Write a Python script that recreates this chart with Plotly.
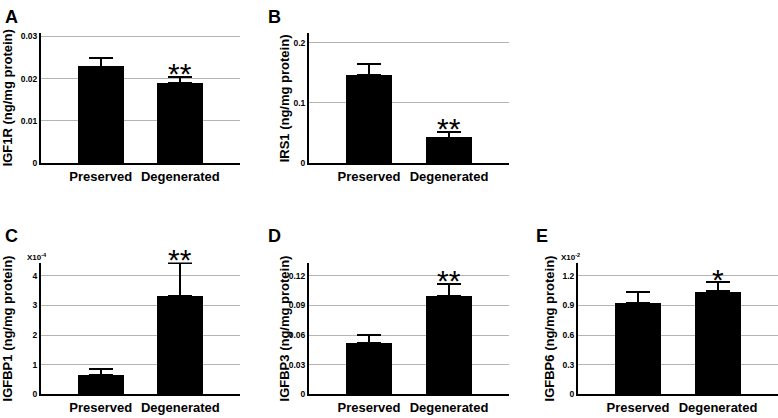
import plotly.graph_objects as go

W, H = 778, 418

categories = ["Preserved", "Degenerated"]

# Panel A: IGF1R (ng/mg protein)
igf1r_mean = [0.0228, 0.0189]
igf1r_err = [0.0022, 0.0016]
igf1r_ticks = [0, 0.01, 0.02, 0.03]
igf1r_ticktext = ["0", "0.01", "0.02", "0.03"]

# Panel B: IRS1 (ng/mg protein)
irs1_mean = [0.1455, 0.042]
irs1_err = [0.0195, 0.0105]
irs1_ticks = [0, 0.1, 0.2]
irs1_ticktext = ["0", "0.1", "0.2"]

# Panel C: IGFBP1 (x10^-4 ng/mg protein)
igfbp1_mean = [0.66, 3.33]
igfbp1_err = [0.21, 1.11]
igfbp1_ticks = [0, 1, 2, 3, 4]
igfbp1_ticktext = ["0", "1", "2", "3", "4"]

# Panel D: IGFBP3 (ng/mg protein)
igfbp3_mean = [0.052, 0.0998]
igfbp3_err = [0.0083, 0.0119]
igfbp3_ticks = [0, 0.03, 0.06, 0.09, 0.12]
igfbp3_ticktext = ["0", "0.03", "0.06", "0.09", "0.12"]

# Panel E: IGFBP6 (x10^-2 ng/mg protein)
igfbp6_mean = [0.925, 1.041]
igfbp6_err = [0.109, 0.093]
igfbp6_ticks = [0, 0.3, 0.6, 0.9, 1.2]
igfbp6_ticktext = ["0", "0.3", "0.6", "0.9", "1.2"]

significance = {
    "A": ["", "**"], "B": ["", "**"], "C": ["", "**"], "D": ["", "**"], "E": ["", "*"],
}

FONT = "Liberation Sans, Arial, sans-serif"

# layout in pixels
col_x = [(41, 240), (309, 509), (578, 778)]
row_y = [(32, 164), (265, 399)]

panels = [
    dict(letter="A", col=0, row=0, mean=igf1r_mean, err=igf1r_err, ymax=0.0307,
         ticks=igf1r_ticks, ticktext=igf1r_ticktext, title="IGF1R (ng/mg protein)",
         title_x=7, mult=None),
    dict(letter="B", col=1, row=0, mean=irs1_mean, err=irs1_err, ymax=0.215,
         ticks=irs1_ticks, ticktext=irs1_ticktext, title="IRS1 (ng/mg protein)",
         title_x=284, mult=None),
    dict(letter="C", col=0, row=1, mean=igfbp1_mean, err=igfbp1_err, ymax=4.45,
         ticks=igfbp1_ticks, ticktext=igfbp1_ticktext, title="IGFBP1 (ng/mg protein)",
         title_x=7, mult=("X10<sup>-4</sup>", 25)),
    dict(letter="D", col=1, row=1, mean=igfbp3_mean, err=igfbp3_err, ymax=0.1333,
         ticks=igfbp3_ticks, ticktext=igfbp3_ticktext, title="IGFBP3 (ng/mg protein)",
         title_x=284, mult=None),
    dict(letter="E", col=2, row=1, mean=igfbp6_mean, err=igfbp6_err, ymax=1.333,
         ticks=igfbp6_ticks, ticktext=igfbp6_ticktext, title="IGFBP6 (ng/mg protein)",
         title_x=549, mult=("X10<sup>-2</sup>", 559)),
]

fig = go.Figure()
annotations = []
layout = {}

for i, p in enumerate(panels, start=1):
    sfx = "" if i == 1 else str(i)
    x0, x1 = col_x[p["col"]]
    ytop, ybot = row_y[p["row"]]
    fig.add_trace(go.Bar(
        x=[0, 1], y=p["mean"], width=0.575,
        marker=dict(color="black", line=dict(width=0)),
        error_y=dict(type="data", array=p["err"], arrayminus=[0, 0], symmetric=False,
                     color="black", thickness=2, width=12),
        xaxis="x" + sfx, yaxis="y" + sfx, showlegend=False, hoverinfo="skip",
    ))
    layout["xaxis" + sfx] = dict(
        domain=[x0 / W, x1 / W], anchor="y" + sfx, range=[-0.75, 1.75],
        tickvals=[0, 1], ticktext=categories, showgrid=False, zeroline=False,
        showline=True, linecolor="black", linewidth=2, ticks="",
        tickfont=dict(family=FONT, size=13, color="black", weight="bold"), fixedrange=True,
    )
    layout["yaxis" + sfx] = dict(
        domain=[1 - ybot / H, 1 - ytop / H], anchor="x" + sfx, range=[0, p["ymax"]],
        tickvals=p["ticks"], ticktext=p["ticktext"], showgrid=True, gridcolor="#b4b4b4",
        gridwidth=1, zeroline=False, showline=True, linecolor="black", linewidth=2,
        ticks="",
        tickfont=dict(family=FONT, size=8.5, color="black", weight="bold"), fixedrange=True,
    )
    # panel letter
    letter_y = 3 if p["row"] == 0 else 226
    letter_x = 3 if p["col"] == 0 else (266 if p["col"] == 1 else 534)
    annotations.append(dict(
        text=p["letter"], x=letter_x / W, y=1 - letter_y / H, xref="paper", yref="paper",
        xanchor="left", yanchor="top", showarrow=False,
        font=dict(family=FONT, size=18, color="black", weight="bold"),
    ))
    # y title
    annotations.append(dict(
        text=p["title"], x=p["title_x"] / W, y=1 - (ytop + ybot) / 2 / H,
        xref="paper", yref="paper", xanchor="center", yanchor="middle",
        textangle=-90, showarrow=False,
        font=dict(family=FONT, size=13, color="black", weight="bold"),
    ))
    # multiplier
    if p["mult"]:
        annotations.append(dict(
            text=p["mult"][0], x=p["mult"][1] / W, y=1 - 259 / H, xref="paper", yref="paper",
            xanchor="left", yanchor="middle", showarrow=False,
            font=dict(family=FONT, size=8, color="black", weight="bold"),
        ))
    # significance stars
    for j, s in enumerate(significance[p["letter"]]):
        if s:
            annotations.append(dict(
                text=s, x=j, y=p["mean"][j] + p["err"][j], xref="x" + sfx, yref="y" + sfx,
                xanchor="center", yanchor="middle", yshift=3, showarrow=False,
                font=dict(family=FONT, size=30, color="black"),
            ))

fig.update_layout(
    width=W, height=H, margin=dict(l=0, r=0, t=0, b=0),
    paper_bgcolor="white", plot_bgcolor="white", bargap=0,
    annotations=annotations, **layout,
)

fig.write_html(
    "out.html",
    config={"displayModeBar": False},
    post_script="document.body.style.margin='0';document.body.style.overflow='hidden';",
)
